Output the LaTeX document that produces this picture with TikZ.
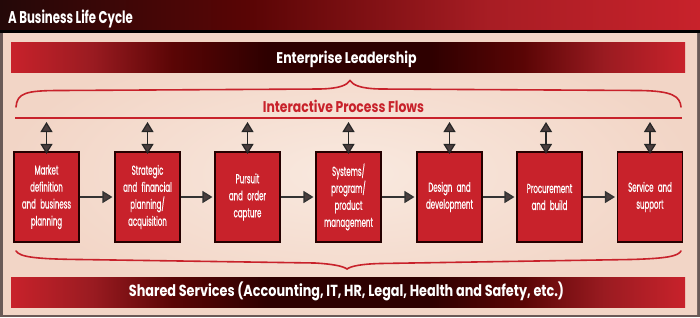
\documentclass[tikz,border=0pt]{standalone}
\usepackage{fontspec}
\setmainfont{Poppins}
\newfontfamily\titlefont[FakeStretch=0.69]{Poppins}
\newfontfamily\headfont[FakeStretch=0.81]{Poppins}
\newfontfamily\flowfont[FakeStretch=0.80]{Poppins}
\newfontfamily\boxfont[FakeStretch=0.54,FakeBold=0.6]{Poppins}
\usetikzlibrary{arrows.meta}
\definecolor{boxred}{HTML}{C8222B}
\definecolor{darkred}{HTML}{2E0000}
\definecolor{midred}{HTML}{9A1B21}
\definecolor{deepred}{HTML}{5A0505}
\definecolor{bgpale}{HTML}{F2D5C6}
\definecolor{bglight}{HTML}{F9E9DF}
\definecolor{framegray}{HTML}{6A5A57}
\definecolor{tipfill}{HTML}{4A3E3E}
\definecolor{titledark}{HTML}{240808}
\pgfdeclarehorizontalshading{bandshade}{100bp}{color(0bp)=(boxred); color(25bp)=(boxred); color(31bp)=(midred); color(37bp)=(deepred); color(44bp)=(darkred); color(56bp)=(darkred); color(63bp)=(deepred); color(69bp)=(midred); color(75bp)=(boxred); color(100bp)=(boxred)}
\pgfdeclarehorizontalshading{titleshade}{100bp}{color(0bp)=(titledark); color(25bp)=(titledark); color(43bp)=(deepred); color(60bp)=(midred!70!boxred); color(75bp)=(boxred); color(100bp)=(boxred)}
\tikzset{
  stage/.style={draw=darkred!80!black, line width=1.1pt, fill=boxred,
    minimum width=65pt, minimum height=90pt, inner sep=1pt,
    text width=63pt, align=center, text=white,
    font=\boxfont\fontsize{13}{17}\selectfont},
  flowarrow/.style={draw=black!80, line width=1.3pt,
    -{Triangle[width=12pt,length=10pt,fill=tipfill]}},
  linkarrow/.style={draw=black!85, line width=1.2pt,
    {Triangle[width=12pt,length=10pt,fill=tipfill]}-{Triangle[width=12pt,length=10pt,fill=tipfill]}},
  bracelabel/.style={draw=boxred, line width=1.6pt, line cap=round},
  bandbar/.style={shading=bandshade},
}
\begin{document}
\begin{tikzpicture}[x=1pt,y=-1pt]
\useasboundingbox (0,0) rectangle (700,317);
% frame and panel
\fill[framegray] (0,0) rectangle (700,317);
\shade[inner color=bglight, outer color=bgpale] (3,33) rectangle (697,314);
% title bar
\shade[shading=titleshade] (0,0) rectangle (700,30);
\fill[black] (0,29.5) rectangle (700,33);
\node[anchor=base west, text=white, inner sep=0pt,
  font=\titlefont\bfseries\fontsize{17}{20}\selectfont] (title) at (8,23.3) {A Business Life Cycle};
% enterprise leadership bar
\shade[bandbar] (11,42) rectangle (685,72);
\node[anchor=base, text=white, inner sep=0pt,
  font=\headfont\bfseries\fontsize{15.5}{18}\selectfont] (lead) at (346.5,63) {Enterprise Leadership};
% shared services bar
\shade[bandbar] (11,277) rectangle (685,307);
\node[anchor=base, text=white, inner sep=0pt,
  font=\flowfont\bfseries\fontsize{16}{18}\selectfont] (shared) at (346.5,296.7) {Shared Services (Accounting, IT, HR, Legal, Health and Safety, etc.)};
% top brace
\coordinate (tbl) at (16,107);
\coordinate (tbr) at (681,107);
\draw[bracelabel] (tbl) .. controls (17,93) and (26,90.5) .. (60,90.5)
  -- (320,89) .. controls (340,88.5) and (347,85) .. (350,80.5)
  .. controls (353,85) and (360,88.5) .. (380,89)
  -- (640,90.5) .. controls (672,91) and (680,96) .. (tbr);
\node[anchor=base, text=boxred, inner sep=0pt,
  font=\flowfont\bfseries\fontsize{15.5}{18}\selectfont] (ipf) at (343.5,112) {Interactive Process Flows};
\coordinate (ll) at (15,118);
\coordinate (lr) at (682,118);
\draw[draw=boxred, line width=1.3pt] (ll) -- (lr);
% bottom brace
\coordinate (bbl) at (16,251);
\coordinate (bbr) at (681,251);
\draw[bracelabel] (bbl) .. controls (20,257) and (35,259) .. (80,259.5)
  -- (315,263) .. controls (332,264) and (343,266) .. (347,269)
  .. controls (351,266) and (362,264) .. (380,263.5)
  -- (630,259.5) .. controls (668,258.5) and (678,256) .. (bbr);
% stages
\node[stage] (s1) at (46.5,197) {Market\\definition\\and business\\planning};
\node[stage] (s2) at (147.5,197) {Strategic\\and financial\\planning/\\acquisition};
\node[stage] (s3) at (247.5,197) {Pursuit\\and order\\capture};
\node[stage] (s4) at (348.5,197) {Systems/\\program/\\product\\management};
\node[stage] (s5) at (449.5,197) {Design and\\development};
\node[stage] (s6) at (549.5,197) {Procurement\\and build};
\node[stage] (s7) at (650,197) {Service and\\support};
% flow arrows
\foreach \a/\b in {s1/s2,s2/s3,s3/s4,s4/s5,s5/s6,s6/s7}
  \draw[flowarrow] (\a.east) -- ([xshift=-2pt]\b.west);
% link arrows
\foreach \s/\x in {s1/46.5,s2/147.5,s3/247.5,s4/348.5,s5/449.5,s6/546,s7/650}{
  \coordinate (t\s) at (\x,122);
  \draw[linkarrow] (t\s) -- ([yshift=-2.5pt]\s.north -| t\s);
}
\end{tikzpicture}
\end{document}
